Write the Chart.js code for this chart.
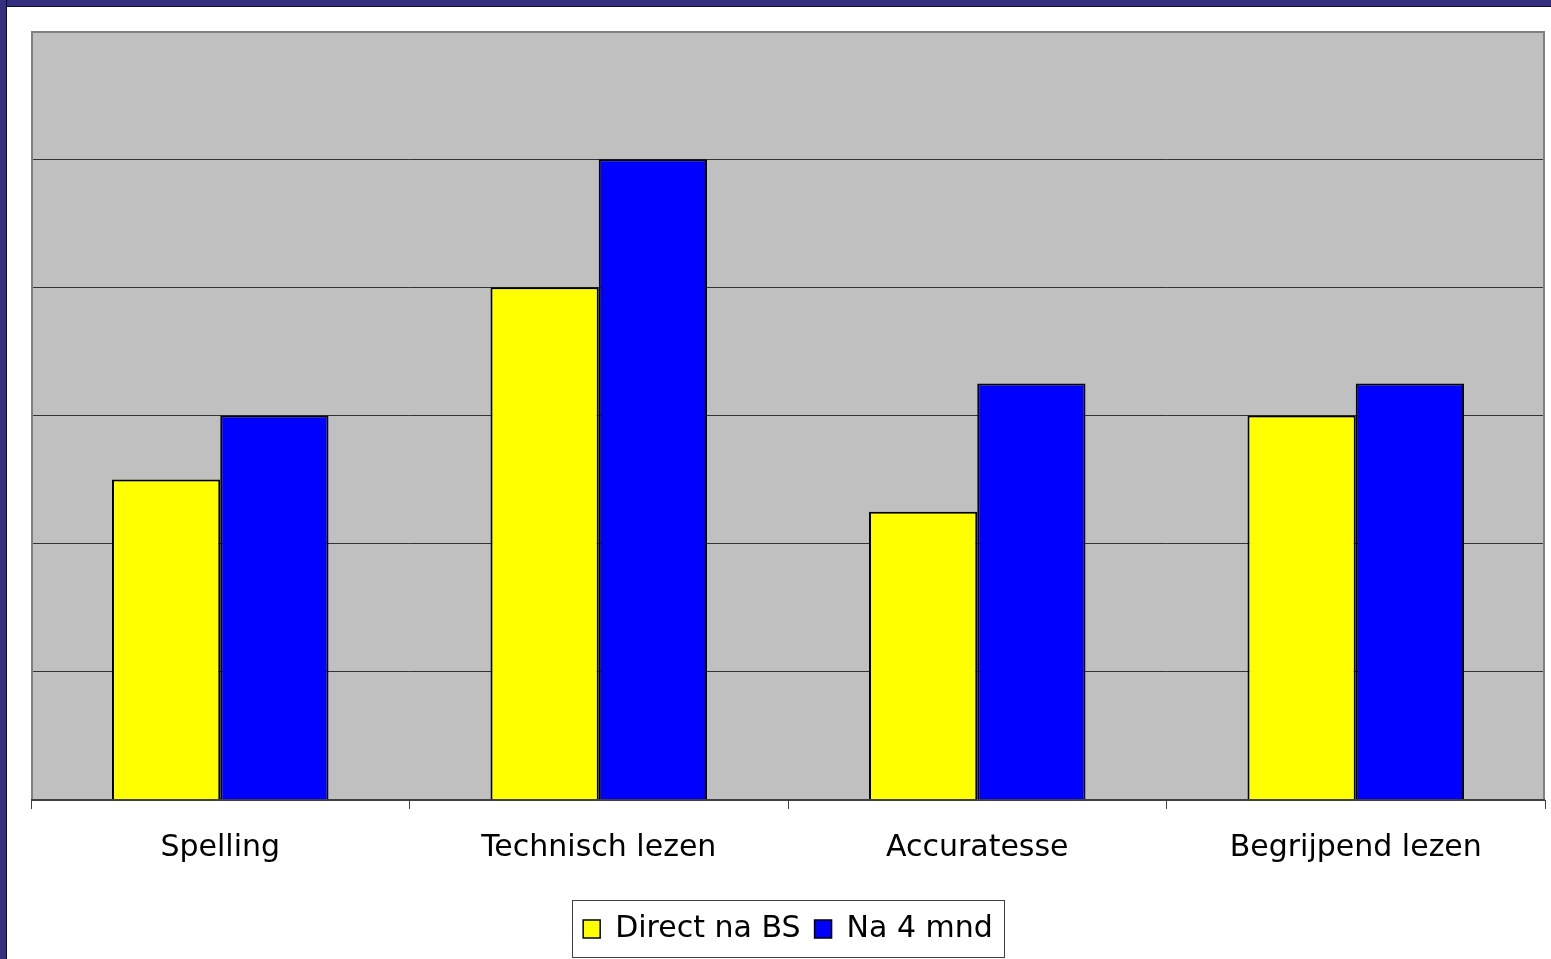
<!DOCTYPE html>
<html>
<head>
<meta charset="utf-8">
<script src="https://cdn.jsdelivr.net/npm/chart.js@4"></script>
<style>
  html, body { margin: 0; padding: 0; background: #ffffff; overflow: hidden; }
  #wrap { position: relative; width: 1551px; height: 959px; }
  #c { position: absolute; left: 0; top: 0; }
  .bl { position: absolute; left: 0; top: 0; width: 6px; height: 959px; background: #34307f; border-right: 1px solid #0d0d2a; }
  .bt { position: absolute; left: 0; top: 0; width: 1551px; height: 6px; background: #34307f; border-bottom: 1px solid #0d0d2a; }
</style>
</head>
<body>
<div id="wrap">
  <canvas id="c" width="1551" height="959"></canvas>
  <div class="bt"></div>
  <div class="bl"></div>
</div>
<script>
const categories = ['Spelling', 'Technisch lezen', 'Accuratesse', 'Begrijpend lezen'];
const seriesNames = ['Direct na BS', 'Na 4 mnd'];
const directNaBS = [2.5, 4, 2.25, 3];
const na4mnd = [3, 5, 3.25, 3.25];
const yMin = 0, yMax = 6, yStep = 1;

const FONT = 'DejaVu Sans, Verdana, sans-serif';

const plotBg = {
  id: 'plotBg',
  beforeDraw(chart) {
    const {ctx, chartArea: a} = chart;
    ctx.save();
    ctx.fillStyle = '#c0c0c0';
    ctx.fillRect(a.left, a.top, a.right - a.left, a.bottom - a.top);
    ctx.restore();
  },
  afterDatasetsDraw(chart) {
    const {ctx, chartArea: a} = chart;
    ctx.save();
    ctx.strokeStyle = '#808080';
    ctx.lineWidth = 2;
    ctx.beginPath();
    ctx.moveTo(a.left + 1, a.bottom);
    ctx.lineTo(a.left + 1, a.top + 1);
    ctx.lineTo(a.right - 1, a.top + 1);
    ctx.lineTo(a.right - 1, a.bottom);
    ctx.stroke();
    ctx.strokeStyle = '#404040';
    ctx.lineWidth = 2;
    ctx.beginPath();
    ctx.moveTo(a.left, a.bottom);
    ctx.lineTo(a.right, a.bottom);
    ctx.stroke();
    ctx.restore();
  }
};

const legendBox = {
  id: 'legendBox',
  afterDraw(chart) {
    const lg = chart.legend;
    if (!lg || !lg.legendHitBoxes || !lg.legendHitBoxes.length) return;
    const hb = lg.legendHitBoxes;
    let l = Infinity, r = -Infinity, t = Infinity, b = -Infinity;
    hb.forEach(h => { l = Math.min(l, h.left); r = Math.max(r, h.left + h.width); t = Math.min(t, h.top); b = Math.max(b, h.top + h.height); });
    const ctx = chart.ctx;
    ctx.save();
    ctx.strokeStyle = '#404040';
    ctx.lineWidth = 1;
    ctx.strokeRect(Math.round(l - 11) + 0.5, Math.round(t - 14) + 0.5, Math.round(r - l + 22), Math.round(b - t + 27));
    ctx.restore();
  }
};

new Chart(document.getElementById('c'), {
  type: 'bar',
  data: {
    labels: categories,
    datasets: [
      { label: seriesNames[0], data: directNaBS, backgroundColor: '#ffff00', borderColor: '#000000', borderWidth: 2 },
      { label: seriesNames[1], data: na4mnd, backgroundColor: '#0000ff', borderColor: '#000000', borderWidth: 2 }
    ]
  },
  options: {
    responsive: false,
    animation: false,
    devicePixelRatio: 1,
    layout: { padding: { left: 31, top: 31, right: 6, bottom: 5 } },
    datasets: { bar: { categoryPercentage: 0.572, barPercentage: 1.0 } },
    scales: {
      x: {
        offset: true,
        grid: { display: true, drawOnChartArea: false, drawTicks: true, tickLength: 9, color: '#404040', lineWidth: 1 },
        border: { display: false },
        ticks: { color: '#000000', font: { family: FONT, size: 30 }, padding: 21, maxRotation: 0 },
        afterFit(s) {
          const lgH = s.chart.legend ? s.chart.legend.height : 0;
          s.height = 959 - 5 - lgH - 800;
        }
      },
      y: {
        min: yMin, max: yMax,
        ticks: { display: false, stepSize: yStep },
        grid: { drawTicks: false, color: (c) => (c.tick && c.tick.value === yMax) ? 'rgba(0,0,0,0)' : '#333333', lineWidth: 1 },
        border: { display: false }
      }
    },
    plugins: {
      legend: {
        position: 'bottom',
        labels: {
          color: '#000000',
          font: { family: FONT, size: 30 },
          boxWidth: 17, boxHeight: 18,
          padding: 14,
          generateLabels(chart) {
            const items = Chart.defaults.plugins.legend.labels.generateLabels(chart);
            items.forEach(i => { i.lineWidth = 1.5; i.strokeStyle = '#000000'; });
            return items;
          }
        }
      },
      tooltip: { enabled: false }
    }
  },
  plugins: [plotBg, legendBox]
});
</script>
</body>
</html>
